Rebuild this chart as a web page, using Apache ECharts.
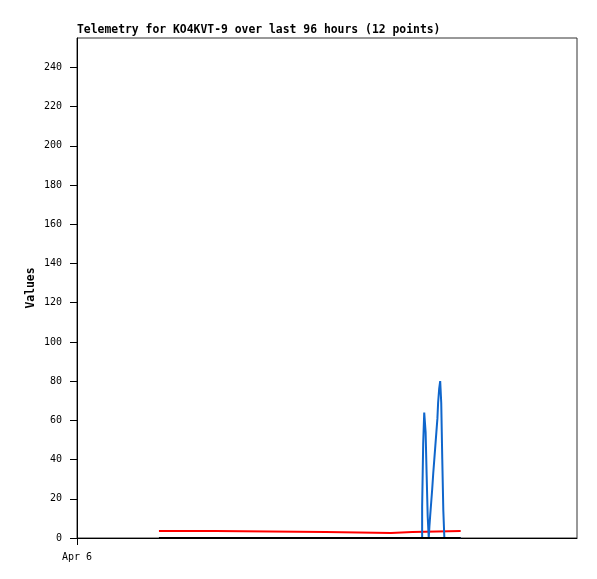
<!DOCTYPE html>
<html>
<head>
<meta charset="utf-8">
<script src="https://cdn.jsdelivr.net/npm/echarts@6/dist/echarts.min.js"></script>
<style>html,body{margin:0;padding:0;background:#fff;}#c{width:597px;height:579px;}</style>
</head>
<body>
<div id="c"></div>
<script>
// x values are minutes after Apr 6 00:00
const titleText = 'Telemetry for KO4KVT-9 over last 96 hours (12 points)';
const xLabels = [{v: 0, text: 'Apr 6'}];
const yTicks = [0,20,40,60,80,100,120,140,160,180,200,220,240];

const redTimes  = [236, 399, 716, 904, 966, 1105];
const redValues = [3.6, 3.1, 2.6, 3.1, 3.6, 3.6];

const blueTimes  = [236, 994, 997, 1000, 1004, 1007, 1010, 1013, 1015, 1017, 1020, 1023, 1026, 1029, 1032, 1035, 1038, 1040, 1043, 1046, 1049, 1052, 1055, 1058, 1105];
const blueValues = [0, 16, 48, 64, 54, 32, 11, 0, 6, 11, 18, 25, 33, 40, 47, 54, 61, 69, 76, 80, 69, 40, 14, 0, 0];

const blackTimes  = [236, 1105];
const blackValues = [0, 0];

// step-after: a value holds until the next sample time
function stepData(times, vals) {
  const out = [[times[0], vals[0]]];
  for (let i = 1; i < times.length; i++) {
    out.push([times[i], vals[i - 1]]);
    out.push([times[i], vals[i]]);
  }
  return out;
}
const font = 'DejaVu Sans Mono';

const chart = echarts.init(document.getElementById('c'), null, {renderer: 'canvas'});
chart.setOption({
  animation: false,
  backgroundColor: '#ffffff',
  title: {
    text: titleText, left: 77, top: 25, padding: 0,
    textStyle: {fontFamily: font, fontWeight: 'bold', fontSize: 11.4, color: '#000'}
  },
  grid: {left: 77, top: 38, width: 500, height: 500, show: true, borderColor: '#333', borderWidth: 1, backgroundColor: 'transparent'},
  xAxis: {
    type: 'value', min: 0, max: 1440,
    axisLine: {show: true, lineStyle: {color: '#000', width: 1}},
    axisTick: {show: true, length: 7, customValues: xLabels.map(d => d.v), lineStyle: {color: '#000'}},
    axisLabel: {customValues: xLabels.map(d => d.v), margin: 14, fontFamily: font, fontSize: 10, color: '#000',
      formatter: v => { const f = xLabels.find(d => d.v === v); return f ? f.text : ''; }},
    splitLine: {show: false}
  },
  yAxis: {
    type: 'value', min: 0, max: 255,
    name: 'Values', nameLocation: 'middle', nameGap: 40, nameRotate: 90, nameMoveOverlap: false,
    nameTextStyle: {fontFamily: font, fontWeight: 'bold', fontSize: 11.4, color: '#000'},
    axisLine: {show: true, lineStyle: {color: '#000', width: 1}},
    axisTick: {show: true, length: 7, customValues: yTicks, lineStyle: {color: '#000'}},
    axisLabel: {customValues: yTicks, margin: 15, fontFamily: font, fontSize: 10, color: '#000'},
    splitLine: {show: false}
  },
  series: [
    {type: 'line', data: stepData(redTimes, redValues), showSymbol: false, lineStyle: {color: '#ff0000', width: 2}},
    {type: 'line', data: stepData(blueTimes, blueValues), showSymbol: false, lineStyle: {color: '#0f66cc', width: 2}},
    {type: 'line', data: stepData(blackTimes, blackValues), showSymbol: false, lineStyle: {color: '#000000', width: 2}}
  ]
});
</script>
</body>
</html>
